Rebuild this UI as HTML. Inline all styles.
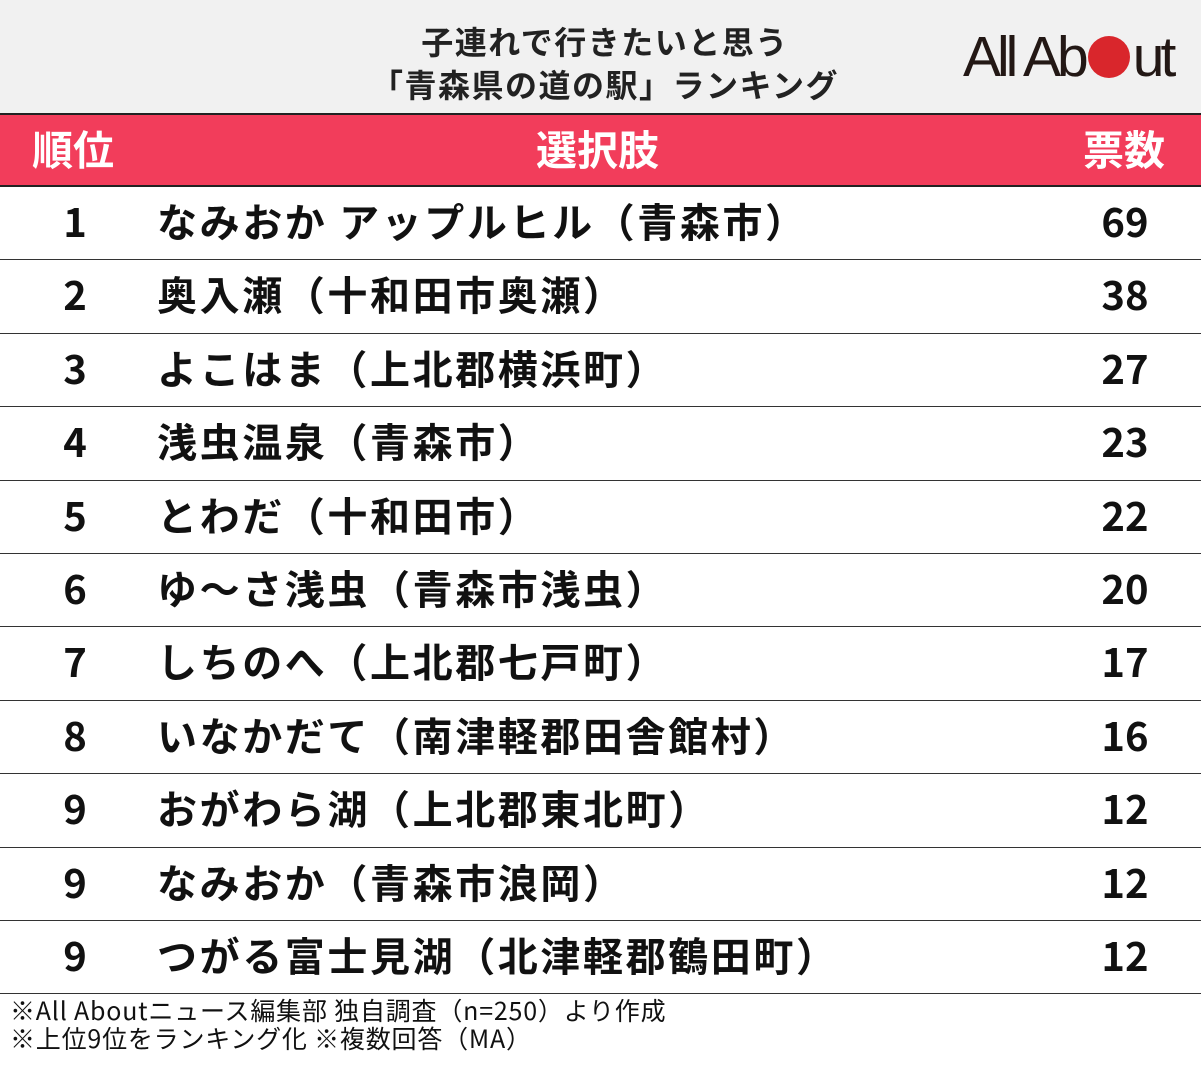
<!DOCTYPE html>
<html><head><meta charset="utf-8">
<style>
body{margin:0;width:1201px;height:1069px;background:#fff;font-family:"Liberation Sans","Noto Sans CJK JP",sans-serif;position:relative;overflow:hidden}
#top{position:absolute;left:0;top:0;width:1201px;height:113px;background:#f1f1f1}
#title{position:absolute;left:255px;width:700px;top:20px;text-align:center;font-size:32px;letter-spacing:1.5px;font-weight:bold;line-height:43px;color:#222;font-family:"Noto Sans CJK JP",sans-serif}
#logo{position:absolute;left:963px;top:24px;font-size:57px;letter-spacing:-4px;color:#231815;font-family:"Liberation Sans",sans-serif;line-height:66px}
#logo .o{display:inline-block;width:42px;height:42px;border-radius:50%;background:#d9262c;vertical-align:-2px;margin:0 3px}
#head{position:absolute;left:0;top:113px;width:1201px;height:74px;background:#f23d5b;border-top:2px solid #222;border-bottom:2px solid #222;box-sizing:border-box;color:#fff;font-size:41px;font-weight:bold;font-family:"Noto Sans CJK JP",sans-serif}
#head div{position:absolute;top:2px;line-height:60px}
.row{position:absolute;left:0;width:1201px;border-bottom:1.5px solid #333;box-sizing:border-box;font-family:"Noto Sans CJK JP",sans-serif;font-weight:bold;font-size:40px;color:#111}
.row div{position:absolute;top:-3px;line-height:73px}
#foot{position:absolute;left:10px;top:996px;font-size:25px;letter-spacing:0.8px;line-height:28px;color:#111;font-family:"Noto Sans CJK JP",sans-serif}
</style></head><body>
<div id="top"></div>
<div id="title">子連れで行きたいと思う<br>「青森県の道の駅」ランキング</div>
<div id="logo">All Ab<span class="o"></span>ut</div>
<div id="head">
<div style="left:32px">順位</div>
<div style="left:536px">選択肢</div>
<div style="left:1083px">票数</div>
</div>
<div id="rows"></div>
<div id="foot">※All Aboutニュース編集部 独自調査（n=250）より作成<br>※上位9位をランキング化 ※複数回答（MA）</div>
<script>
const ranks=[1,2,3,4,5,6,7,8,9,9,9];
const names=["なみおか アップルヒル（青森市）","奥入瀬（十和田市奥瀬）","よこはま（上北郡横浜町）","浅虫温泉（青森市）","とわだ（十和田市）","ゆ～さ浅虫（青森市浅虫）","しちのへ（上北郡七戸町）","いなかだて（南津軽郡田舎館村）","おがわら湖（上北郡東北町）","なみおか（青森市浪岡）","つがる富士見湖（北津軽郡鶴田町）"];
const votes=[69,38,27,23,22,20,17,16,12,12,12];
const c=document.getElementById('rows');
const top0=187,h=73.4;
ranks.forEach((r,i)=>{
 const row=document.createElement('div');
 
 
 row.className='row';row.style.top=(top0+i*h)+'px';row.style.height=h+'px';
 const a=document.createElement('div');
 
 
 a.style.left='0';a.style.width='150px';a.style.textAlign='center';a.textContent=r;
 const b=document.createElement('div');
 
 
 b.style.left='157px';b.style.letterSpacing='2.6px';b.textContent=names[i];
 const d=document.createElement('div');
 
 
 d.style.left='1050px';d.style.width='150px';d.style.textAlign='center';d.textContent=votes[i];
 row.append(a,b,d);c.appendChild(row);
});
</script>
</body></html>
